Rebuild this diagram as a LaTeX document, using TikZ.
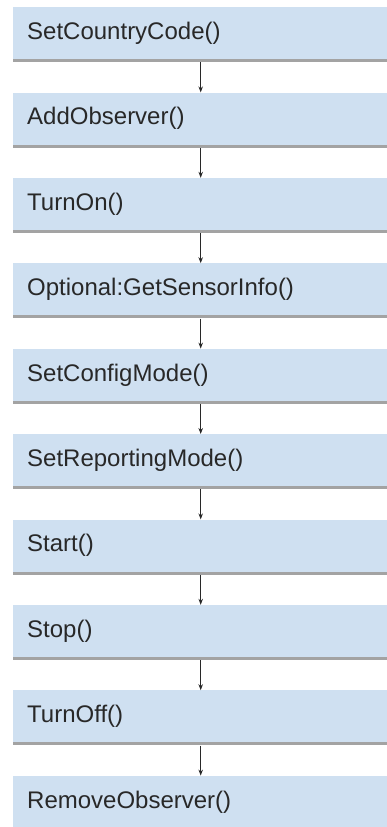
\documentclass[tikz,border=0pt]{standalone}
\usepackage{fontspec}
\setmainfont{Liberation Sans}
\usetikzlibrary{arrows.meta, positioning, shadows}
\definecolor{callfill}{RGB}{207,224,241}
\definecolor{calltext}{RGB}{40,40,40}
\begin{document}
\begin{tikzpicture}[
    x=1pt, y=1pt,
    call/.style={rectangle, fill=callfill, draw=none, text=calltext, align=left,
                 text width=347pt, inner xsep=14pt, inner ysep=0pt, minimum height=52pt,
                 font=\fontsize{24}{28}\selectfont,
                 drop shadow={shadow xshift=-0.5pt, shadow yshift=-3pt, opacity=0.6, fill=black!60}},
    nar/.style={-{Stealth[length=6pt, width=4.5pt]}, line width=0.9pt, color=calltext, shorten <=3pt},
]
\useasboundingbox (0,0) rectangle (386,-827);

% Setup calls
\node[call, anchor=north west] (scc) at (13,-7) {SetCountryCode()};
\node[call, below=33pt of scc] (aob) {AddObserver()};
\node[call, below=33pt of aob] (ton) {TurnOn()};
\node[call, below=33pt of ton] (gsi) {Optional:GetSensorInfo()};

% Configuration
\node[call, below=33pt of gsi] (scm) {SetConfigMode()};
\node[call, below=33pt of scm] (srm) {SetReportingMode()};

% Run
\node[call, below=33pt of srm] (sta) {Start()};
\node[call, below=33pt of sta] (sto) {Stop()};

% Teardown
\node[call, below=33pt of sto] (tof) {TurnOff()};
\node[call, below=33pt of tof] (rob) {RemoveObserver()};

% Arrows
\draw[nar] (scc) -- (aob);
\draw[nar] (aob) -- (ton);
\draw[nar] (ton) -- (gsi);
\draw[nar] (gsi) -- (scm);
\draw[nar] (scm) -- (srm);
\draw[nar] (srm) -- (sta);
\draw[nar] (sta) -- (sto);
\draw[nar] (sto) -- (tof);
\draw[nar] (tof) -- (rob);
\end{tikzpicture}
\end{document}
